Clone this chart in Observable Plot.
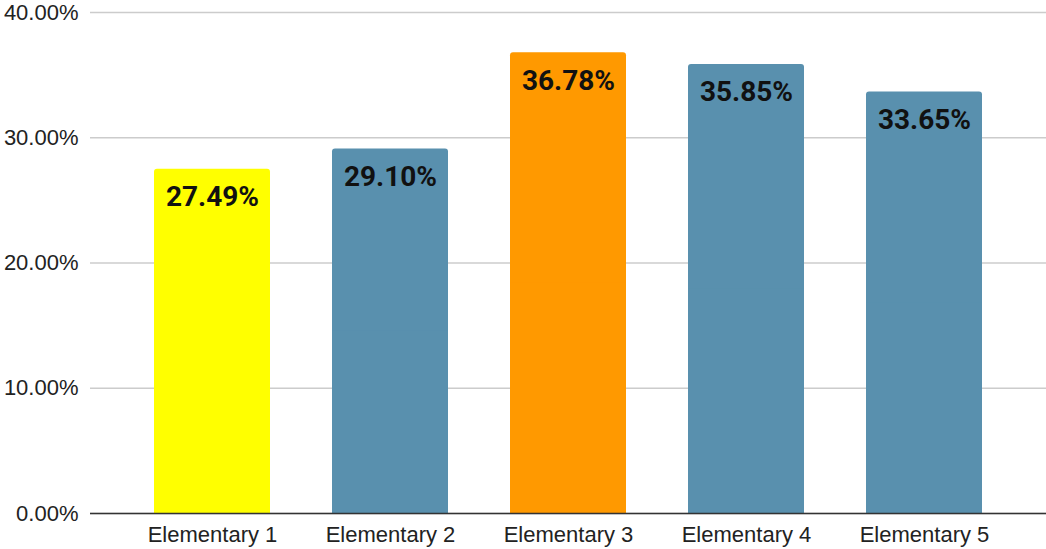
<!DOCTYPE html>
<html><head><meta charset="utf-8">
<script src="https://cdn.jsdelivr.net/npm/d3@7"></script>
<script src="https://cdn.jsdelivr.net/npm/@observablehq/plot@0.6"></script>
<style>
html,body{margin:0;padding:0;background:#fff;}
</style>
</head><body>
<div id="chart"></div>
<script>
const categories = ["Elementary 1","Elementary 2","Elementary 3","Elementary 4","Elementary 5"];
const values = [27.49, 29.10, 36.78, 35.85, 33.65];
const colors = ["#ffff00","#5990ae","#ff9900","#5990ae","#5990ae"];
const yTicks = [0, 10, 20, 30, 40];

const data = categories.map((c, i) => ({cat: c, v: values[i], color: colors[i]}));

const chart = Plot.plot({
  width: 1046,
  height: 549,
  marginLeft: 90,
  marginRight: 0,
  marginTop: 12,
  marginBottom: 36,
  style: {fontFamily: "'Liberation Sans', Arial, sans-serif", fontSize: "22px", color: "#222", background: "#fff"},
  x: {domain: categories, padding: 0.35, label: null},
  y: {domain: [0, 40], ticks: yTicks, label: null},
  marks: [
    Plot.gridY(yTicks, {stroke: "#cccccc", strokeOpacity: 1, strokeWidth: 1.3}),
    Plot.axisY(yTicks, {tickSize: 0, tickPadding: 12, tickFormat: d => d.toFixed(2) + "%", fontSize: 22, fill: "#222"}),
    Plot.axisX({tickSize: 0, tickPadding: 13, fontSize: 22, fill: "#222"}),
    Plot.barY(data, {x: "cat", y: "v", fill: d => d.color, rx: 3}),
    Plot.barY(data, {x: "cat", y1: 0, y2: d => d.v / 2, fill: d => d.color}),
    Plot.ruleY([0], {stroke: "#333", strokeWidth: 1.3}),
    Plot.text(data, {x: "cat", y: "v", text: d => d.v.toFixed(2) + "%", dy: 28, fontSize: 28, fontWeight: "bold", fontFamily: "Roboto, sans-serif", fill: "#111"})
  ]
});
document.getElementById("chart").appendChild(chart);
</script>
</body></html>
